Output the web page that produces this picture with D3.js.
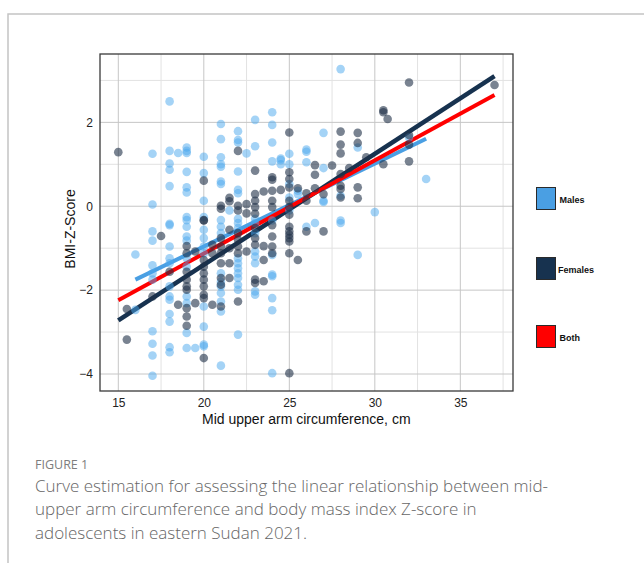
<!DOCTYPE html>
<html>
<head>
<meta charset="utf-8">
<script src="https://cdn.jsdelivr.net/npm/d3@7"></script>
<style>
  html, body { margin: 0; padding: 0; background: #fff; }
  svg { display: block; }
</style>
</head>
<body>
<svg id="chart" width="644" height="563"></svg>
<script>
// MUAC (cm) vs BMI Z-score

// --- data ---

const maleData = [
  [16, -1.15], [16, -2.47],
  [17, 1.25], [17, 0.04], [17, -0.6], [17, -0.82], [17, -1.41], [17, -1.6], [17, -1.75], [17, -2.98], [17, -3.28], [17, -3.56], [17, -4.04],
  [18, 2.5], [18, 1.32], [18, 1.02], [18, 0.87], [18, 0.48], [18, -0.42], [18, -0.45], [18, -0.96], [18, -1.24], [18, -1.36], [18, -1.91], [18, -2.15], [18, -2.23], [18, -2.57], [18, -2.75], [18, -3.36], [18, -3.48],
  [18.5, 1.27],
  [19, 1.4], [19, 1.32], [19, 1.27], [19, 0.82], [19, 0.45], [19, 0.33], [19, -0.26], [19, -0.33], [19, -0.49], [19, -0.72], [19, -0.82], [19, -1.24], [19, -1.44], [19, -2.15], [19, -2.31], [19, -3.02], [19, -3.38],
  [19.5, -3.38],
  [20, 1.18], [20, 0.79], [20, 0.13], [20, -0.26], [20, -0.56], [20, -0.76], [20, -0.96], [20, -1.12], [20, -2.39], [20, -2.87], [20, -3.3], [20, -3.34],
  [21, 1.96], [21, 1.6], [21, 1.17], [21, 1.0], [21, 0.94], [21, 0.59], [21, 0.53], [21, -0.33], [21, -0.49], [21, -0.64], [21, -1.6], [21, -1.8], [21, -1.91], [21, -2.07], [21, -2.27], [21, -2.51], [21, -3.8],
  [21.5, -0.1],
  [22, 1.79], [22, 1.58], [22, 1.52], [22, 0.83], [22, 0.39], [22, 0.31], [22, -0.3], [22, -0.4], [22, -0.52], [22, -1.24], [22, -1.36], [22, -1.48], [22, -1.6], [22, -1.71], [22, -1.87], [22, -1.99], [22, -3.06],
  [22.5, 1.26],
  [23, 2.06], [23, 1.43], [23, -0.3], [23, -0.4], [23, -0.64], [23, -1.08], [23, -1.2], [23, -1.36], [23, -2.03], [23, -2.11],
  [24, 2.24], [24, 1.94], [24, 1.52], [24, 1.07], [24, -0.34], [24, -1.16], [24, -1.63], [24, -1.67], [24, -2.19], [24, -2.48], [24, -3.98],
  [24.5, 1.14], [24.5, 1.1], [24.5, 1.0],
  [25, 1.25], [25, 1.0], [25, 0.53], [25, 0.21], [25, -0.1],
  [25.5, 0.37], [25.5, 0.29],
  [26, 1.35], [26, 1.3], [26, 1.05], [26, -0.49],
  [26.5, -0.4],
  [27, 1.75], [27, 0.91], [27, 0.13], [27, 0.1],
  [28, 3.27], [28, 0.25], [28, -0.34], [28, -0.4],
  [29, 1.4], [29, -1.16],
  [30, -0.14],
  [32, 1.64],
  [33, 0.65]
];

const femaleData = [
  [15, 1.29],
  [15.5, -2.45], [15.5, -3.18],
  [17, -2.15],
  [17.5, -0.71],
  [18, -1.56],
  [18.5, -2.35],
  [19, -0.95], [19, -1.12], [19, -1.56], [19, -1.75], [19, -1.91], [19, -1.99], [19, -2.43], [19, -2.63], [19, -2.85],
  [19.5, -1.08], [19.5, -2.31],
  [20, 0.61], [20, -0.33], [20, -0.34], [20, -1.28], [20, -1.44], [20, -1.6], [20, -1.75], [20, -1.91], [20, -2.11], [20, -2.19], [20, -3.62],
  [20.5, -0.92], [20.5, -1.12], [20.5, -2.35],
  [21, 0.01], [21, -0.06], [21, -0.76], [21, -0.96], [21, -1.12], [21, -1.36], [21, -1.71], [21, -1.87], [21, -2.39],
  [21.5, 0.2], [21.5, 0.12], [21.5, -0.56], [21.5, -1.0], [21.5, -1.36], [21.5, -1.71],
  [22, 1.32], [22, 0.01], [22, -0.1], [22, -0.64], [22, -0.8], [22, -0.96], [22, -1.12], [22, -2.27],
  [22.5, 0.05], [22.5, -0.17], [22.5, -1.08],
  [23, 0.85], [23, 0.29], [23, 0.13], [23, -0.02], [23, -0.18], [23, -0.52], [23, -0.76], [23, -0.92], [23, -1.75], [23, -1.83],
  [23.5, 0.35], [23.5, -0.95], [23.5, -1.28], [23.5, -1.79],
  [24, 0.69], [24, 0.63], [24, 0.37], [24, 0.13], [24, -0.02], [24, -0.45], [24, -0.72], [24, -0.96], [24, -1.12],
  [24.5, 0.39],
  [25, 1.76], [25, 0.81], [25, 0.65], [25, 0.45], [25, 0.13], [25, -0.02], [25, -0.2], [25, -0.49], [25, -0.6], [25, -0.68], [25, -0.76], [25, -0.84], [25, -1.12], [25, -3.98],
  [25.5, 0.43], [25.5, -1.28],
  [26, 0.31], [26, 0.13], [26, -0.6],
  [26.5, 0.98], [26.5, 0.75], [26.5, 0.43],
  [27, 0.29], [27, -0.6],
  [27.5, 0.97],
  [28, 1.78], [28, 1.47], [28, 1.26], [28, 0.77], [28, 0.49], [28, 0.41], [28, 0.21],
  [28.5, 0.91],
  [29, 1.75], [29, 1.51], [29, 0.45], [29, 0.19],
  [29.5, 1.17],
  [30.5, 2.29], [30.5, 2.24], [30.5, 1.0],
  [30.75, 2.08],
  [32, 2.95], [32, 1.7], [32, 1.47], [32, 1.07],
  [37, 2.89]
];

// fitted lines: [muac, z] at each end
const maleFit = [[16, -1.75], [33, 1.61]];
const femaleFit = [[15, -2.72], [37, 3.1]];
const bothFit = [[15, -2.24], [37, 2.65]];

const xTicks = [15, 20, 25, 30, 35];
const xMinor = [17.5, 22.5, 27.5, 32.5, 37.5];
const yTicks = [-4, -2, 0, 2];
const yMinor = [-3, -1, 1, 3];

const legendNames = ['Males', 'Females', 'Both'];
const legendColors = ['#4a9fe3', '#17324f', '#ff0000'];

const captionLabel = 'FIGURE 1';
const captionLines = [
  'Curve estimation for assessing the linear relationship between mid-',
  'upper arm circumference and body mass index Z-score in',
  'adolescents in eastern Sudan 2021.'
];

// --- layout ---

const svg = d3.select('#chart');
const plot = { left: 100, right: 513, top: 54, bottom: 391 };

const x = d3.scaleLinear().domain([13.93, 38.08]).range([plot.left, plot.right]);
const y = d3.scaleLinear().domain([-4.405, 3.63]).range([plot.bottom, plot.top]);

// outer frame (open at right/bottom like the page crop)
svg.append('path')
  .attr('d', `M8,563 L8,14 L644,14`)
  .attr('fill', 'none')
  .attr('stroke', '#c4c4c4')
  .attr('stroke-width', 1.5);

// --- grid ---

const grid = svg.append('g');
grid.selectAll('.vmin').data(xMinor).join('line')
  .attr('x1', d => x(d)).attr('x2', d => x(d))
  .attr('y1', plot.top).attr('y2', plot.bottom)
  .attr('stroke', '#e2e2e2').attr('stroke-width', 1);
grid.selectAll('.hmin').data(yMinor).join('line')
  .attr('y1', d => y(d)).attr('y2', d => y(d))
  .attr('x1', plot.left).attr('x2', plot.right)
  .attr('stroke', '#e2e2e2').attr('stroke-width', 1);
grid.selectAll('.vmaj').data(xTicks).join('line')
  .attr('x1', d => x(d)).attr('x2', d => x(d))
  .attr('y1', plot.top).attr('y2', plot.bottom)
  .attr('stroke', '#c6c6c6').attr('stroke-width', 1);
grid.selectAll('.hmaj').data(yTicks).join('line')
  .attr('y1', d => y(d)).attr('y2', d => y(d))
  .attr('x1', plot.left).attr('x2', plot.right)
  .attr('stroke', '#c6c6c6').attr('stroke-width', 1);

// --- fit lines (under the points, as in the original) ---

const line = d3.line().x(d => x(d[0])).y(d => y(d[1]));
[[maleFit, legendColors[0], 4], [femaleFit, legendColors[1], 4.5], [bothFit, legendColors[2], 4]]
  .forEach(([fit, col, w]) => {
    svg.append('path')
      .datum(fit)
      .attr('d', line)
      .attr('fill', 'none')
      .attr('stroke', col)
      .attr('stroke-width', w);
  });

// --- points ---

svg.append('g').selectAll('circle').data(maleData).join('circle')
  .attr('cx', d => x(d[0])).attr('cy', d => y(d[1]))
  .attr('r', 4.3)
  .attr('fill', '#4aa8ee')
  .attr('fill-opacity', 0.5);

svg.append('g').selectAll('circle').data(femaleData).join('circle')
  .attr('cx', d => x(d[0])).attr('cy', d => y(d[1]))
  .attr('r', 4.3)
  .attr('fill', '#1f3148')
  .attr('fill-opacity', 0.6);

// plot box
svg.append('rect')
  .attr('x', plot.left).attr('y', plot.top)
  .attr('width', plot.right - plot.left).attr('height', plot.bottom - plot.top)
  .attr('fill', 'none')
  .attr('stroke', '#3a3a3a')
  .attr('stroke-width', 1.3);

// --- axes ---

const font = '"Liberation Sans", Arial, sans-serif';

const xAxis = svg.append('g')
  .attr('transform', `translate(0,${plot.bottom})`)
  .call(d3.axisBottom(x).tickValues(xTicks).tickSize(0).tickPadding(7));
xAxis.select('.domain').remove();
xAxis.selectAll('text').attr('font-family', font).attr('font-size', 12).attr('fill', '#222');

const yAxis = svg.append('g')
  .attr('transform', `translate(${plot.left},0)`)
  .call(d3.axisLeft(y).tickValues(yTicks).tickSize(0).tickPadding(7).tickFormat(d3.format('d')));
yAxis.select('.domain').remove();
yAxis.selectAll('text').attr('font-family', font).attr('font-size', 12).attr('fill', '#222');

svg.append('text')
  .attr('x', (x(15) + x(35)) / 2 + 17)
  .attr('y', 424)
  .attr('text-anchor', 'middle')
  .attr('font-family', font)
  .attr('font-size', 14)
  .attr('fill', '#111')
  .text('Mid upper arm circumference, cm');

svg.append('text')
  .attr('transform', 'translate(75,229) rotate(-90)')
  .attr('text-anchor', 'middle')
  .attr('font-family', font)
  .attr('font-size', 14)
  .attr('fill', '#111')
  .text('BMI-Z-Score');

// --- legend ---

const legendY = [187, 257, 325];
const legend = svg.append('g');
legendNames.forEach((name, i) => {
  legend.append('rect')
    .attr('x', 536.5).attr('y', legendY[i] + 0.5)
    .attr('width', 19).attr('height', 22)
    .attr('fill', legendColors[i])
    .attr('stroke', '#2a2a2a')
    .attr('stroke-width', 1);
  legend.append('text')
    .attr('x', i === 1 ? 558 : 559.5)
    .attr('y', legendY[i] + 16)
    .attr('font-family', font)
    .attr('font-weight', 'bold')
    .attr('font-size', 9)
    .attr('fill', '#111')
    .text(name);
});

// --- caption ---

svg.append('text')
  .attr('x', 35).attr('y', 469)
  .attr('font-family', '"Open Sans", sans-serif')
  .attr('font-size', 12.5)
  .attr('fill', '#7d7d7d')
  .text(captionLabel);

svg.append('g').selectAll('text').data(captionLines).join('text')
  .attr('x', 35)
  .attr('y', (d, i) => 492 + i * 23.3)
  .attr('font-family', '"Open Sans", sans-serif')
  .attr('font-weight', 300)
  .attr('font-size', 17)
  .attr('fill', '#666')
  .text(d => d);
</script>
</body>
</html>
